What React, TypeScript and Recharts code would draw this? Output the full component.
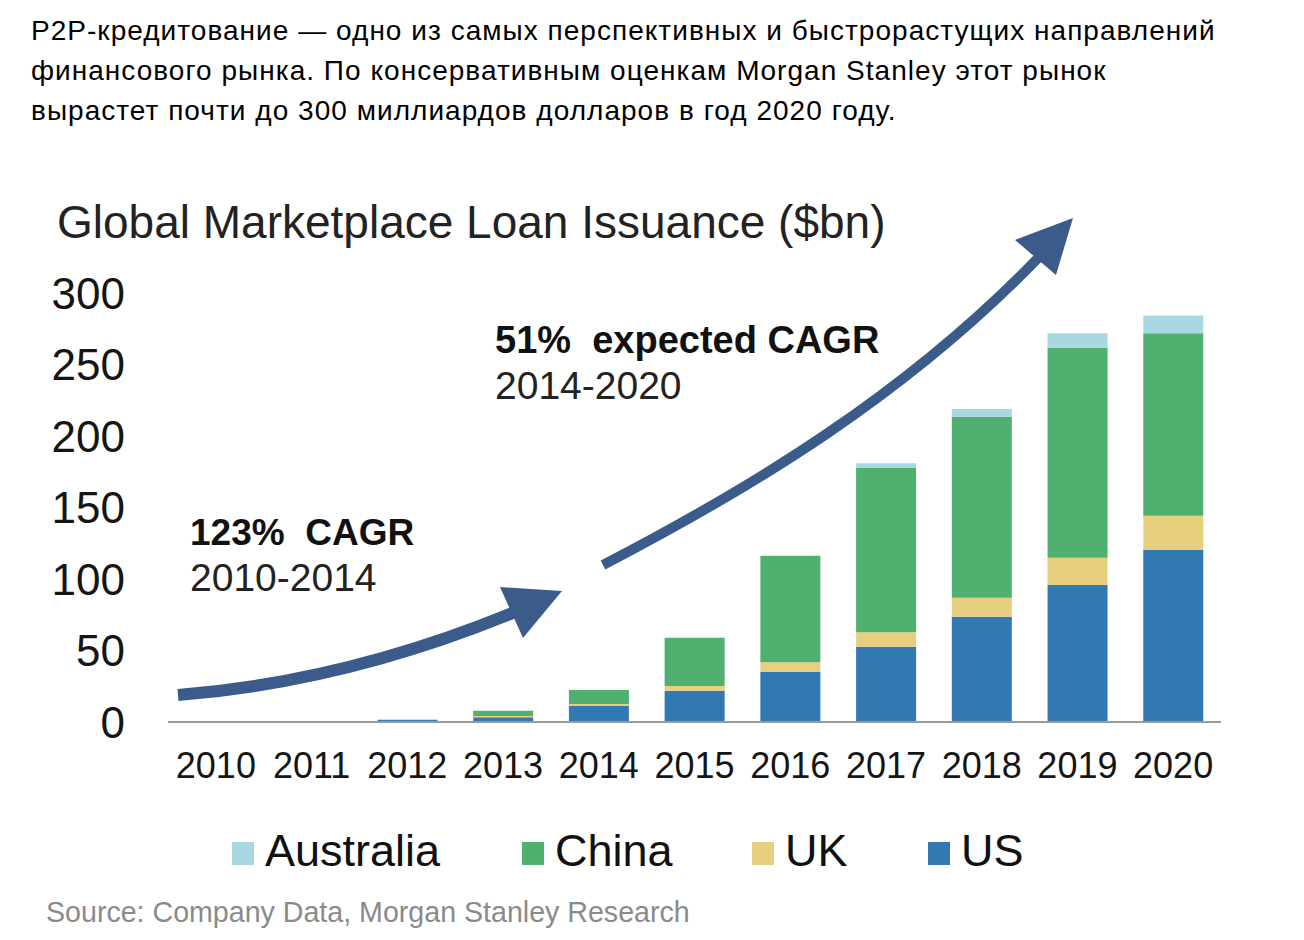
import React from 'react';
import { BarChart, Bar, XAxis, YAxis } from 'recharts';

const years = ['2010', '2011', '2012', '2013', '2014', '2015', '2016', '2017', '2018', '2019', '2020'];
const us = [0, 0, 1.5, 3.3, 11.2, 21.9, 35.2, 52.7, 73.6, 95.8, 120.3];
const uk = [0, 0, 0, 0.9, 1.4, 3.3, 6.6, 10.1, 13.3, 19.1, 24.0];
const china = [0, 0, 0, 3.7, 9.8, 33.8, 74.5, 115.1, 126.6, 146.9, 127.6];
const australia = [0, 0, 0, 0, 0, 0, 0, 3.1, 5.4, 10.1, 12.3];
const yTicks = [0, 50, 100, 150, 200, 250, 300];

const headerLines = [
  'P2P-кредитование — одно из самых перспективных и быстрорастущих направлений',
  'финансового рынка. По консервативным оценкам Morgan Stanley этот рынок',
  'вырастет почти до 300 миллиардов долларов в год 2020 году.',
];

const legendItems = [
  { name: 'Australia', color: '#a9d8e3' },
  { name: 'China', color: '#50b06f' },
  { name: 'UK', color: '#e8cf80' },
  { name: 'US', color: '#3278b3' },
];

const data = years.map((y, i) => ({
  year: y,
  us: us[i],
  uk: uk[i],
  china: china[i],
  australia: australia[i],
}));

const FONT = '"Liberation Sans", Arial, Helvetica, sans-serif';
const ARROW = '#3b5b8b';

export default function App() {
  return (
    <div style={{ position: 'absolute', left: 0, top: 0, width: 1304, height: 940, background: '#fff', fontFamily: FONT, overflow: 'hidden' }}>
      <div style={{ position: 'absolute', left: 31, top: 11, fontSize: 28, letterSpacing: 1.03, lineHeight: '40px', color: '#000' }}>
        {headerLines.map((l, i) => (
          <div key={i} style={{ whiteSpace: 'nowrap' }}>{l}</div>
        ))}
      </div>
      <div style={{ position: 'absolute', left: 0, top: 0 }}>
        <BarChart
          width={1304}
          height={940}
          data={data}
          margin={{ top: 293, right: 83, bottom: 158, left: 0 }}
          barSize={60}
        >
          <XAxis
            dataKey="year"
            height={60}
            tickLine={false}
            tickSize={0}
            tickMargin={30}
            axisLine={{ stroke: '#9a9a9a', strokeWidth: 2 }}
            tick={{ fontSize: 36, fill: '#151515', fontFamily: FONT }}
            interval={0}
          />
          <YAxis
            width={168}
            domain={[0, 300]}
            ticks={yTicks}
            axisLine={false}
            tickLine={false}
            tickSize={0}
            tickMargin={43}
            tick={{ fontSize: 44, fill: '#151515', fontFamily: FONT }}
          />
          <Bar dataKey="us" stackId="a" fill="#3278b3" isAnimationActive={false} />
          <Bar dataKey="uk" stackId="a" fill="#e8cf80" isAnimationActive={false} />
          <Bar dataKey="china" stackId="a" fill="#50b06f" isAnimationActive={false} />
          <Bar dataKey="australia" stackId="a" fill="#a9d8e3" isAnimationActive={false} />
        </BarChart>
      </div>
      <svg width={1304} height={940} style={{ position: 'absolute', left: 0, top: 0, pointerEvents: 'none' }}>
        <text x={57} y={238} fontSize={46} fill="#222" fontFamily={FONT}>Global Marketplace Loan Issuance ($bn)</text>
        <text x={495} y={353} fontSize={38} fontWeight="bold" fill="#111" fontFamily={FONT} style={{ whiteSpace: 'pre' }}>51%  expected CAGR</text>
        <text x={495} y={399} fontSize={39} fill="#222" fontFamily={FONT}>2014-2020</text>
        <text x={190} y={545} fontSize={37} fontWeight="bold" fill="#111" fontFamily={FONT} style={{ whiteSpace: 'pre' }}>123%  CAGR</text>
        <text x={190} y={591} fontSize={39} fill="#222" fontFamily={FONT}>2010-2014</text>
        <path d="M178,695 Q345,682 515,612" stroke={ARROW} strokeWidth={12} fill="none" />
        <polygon points="500,587 562,591 523,638" fill={ARROW} />
        <path d="M603,565 C753,487 907,394 1040,256" stroke={ARROW} strokeWidth={10} fill="none" />
        <polygon points="1015,240 1073,218 1056,275" fill={ARROW} />
      </svg>
      {legendItems.map((it, i) => {
        const lefts = [232, 522, 752, 928];
        return (
          <div key={it.name} style={{ position: 'absolute', left: lefts[i], top: 826, height: 50, display: 'flex', alignItems: 'center' }}>
            <div style={{ width: 22, height: 23, background: it.color, marginRight: 11, marginTop: 4 }} />
            <span style={{ fontSize: 45, color: '#111', lineHeight: '50px' }}>{it.name}</span>
          </div>
        );
      })}
      <div style={{ position: 'absolute', left: 46, top: 895, fontSize: 28.6, color: '#8a8a8a', whiteSpace: 'nowrap', lineHeight: '34px' }}>
        Source: Company Data, Morgan Stanley Research
      </div>
    </div>
  );
}
